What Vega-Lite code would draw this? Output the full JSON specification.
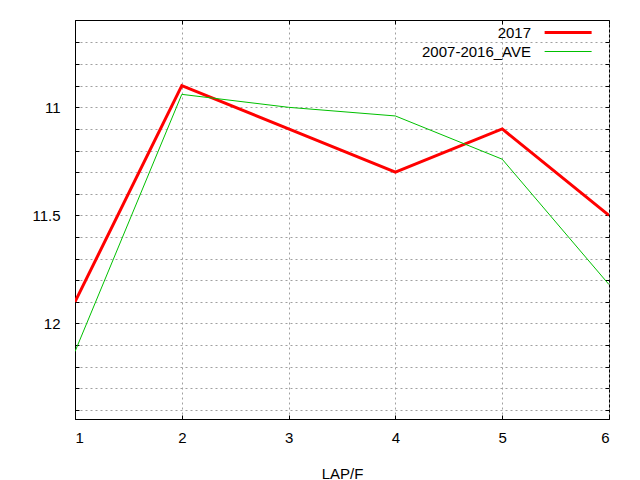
{
  "$schema": "https://vega.github.io/schema/vega-lite/v6.json",
  "width": 534,
  "height": 399,
  "autosize": "none",
  "padding": {"left": 75, "top": 20, "right": 31, "bottom": 61},
  "background": "white",
  "config": {
    "font": "Liberation Sans",
    "view": {"stroke": "black", "strokeWidth": 1},
    "axis": {
      "domainColor": "black",
      "tickColor": "black",
      "labelColor": "black",
      "titleColor": "black",
      "labelFontSize": 15,
      "titleFontSize": 15,
      "titleFontWeight": "normal",
      "gridColor": "#a0a0a0",
      "gridDash": [2, 3],
      "gridWidth": 1
    }
  },
  "data": {
    "values": [
      {"lap": 1, "time": 11.9, "series": "2017"},
      {"lap": 2, "time": 10.9, "series": "2017"},
      {"lap": 3, "time": 11.1, "series": "2017"},
      {"lap": 4, "time": 11.3, "series": "2017"},
      {"lap": 5, "time": 11.1, "series": "2017"},
      {"lap": 6, "time": 11.5, "series": "2017"},
      {"lap": 1, "time": 12.13, "series": "2007-2016_AVE"},
      {"lap": 2, "time": 10.94, "series": "2007-2016_AVE"},
      {"lap": 3, "time": 11.0, "series": "2007-2016_AVE"},
      {"lap": 4, "time": 11.04, "series": "2007-2016_AVE"},
      {"lap": 5, "time": 11.24, "series": "2007-2016_AVE"},
      {"lap": 6, "time": 11.82, "series": "2007-2016_AVE"}
    ]
  },
  "layer": [
    {
      "mark": {"type": "line", "clip": true},
      "encoding": {
        "x": {
          "field": "lap", "type": "quantitative",
          "scale": {"domain": [1, 6], "nice": false, "zero": false},
          "axis": {"values": [1, 2, 3, 4, 5, 6], "format": "d", "title": "LAP/F", "grid": true, "tickSize": -4, "labelPadding": 15, "titlePadding": 21}
        },
        "y": {
          "field": "time", "type": "quantitative",
          "scale": {"domain": [10.596, 12.442], "reverse": true, "nice": false, "zero": false},
          "axis": {
            "values": [10.7, 10.8, 10.9, 11, 11.1, 11.2, 11.3, 11.4, 11.5, 11.6, 11.7, 11.8, 11.9, 12, 12.1, 12.2, 12.3, 12.4],
            "labelExpr": "datum.value == 11 || datum.value == 11.5 || datum.value == 12 ? format(datum.value, '~g') : ''",
            "title": null, "grid": true, "tickSize": -4, "labelPadding": 19
          }
        },
        "color": {
          "field": "series", "type": "nominal",
          "scale": {"domain": ["2017", "2007-2016_AVE"], "range": ["#ff0000", "#00c000"]},
          "legend": {
            "title": null, "orient": "none", "legendX": 468, "legendY": 5,
            "symbolType": "M-1,0H7", "symbolSize": 138, "labelAlign": "right", "labelOffset": -27,
            "labelFontSize": 15, "labelColor": "black", "rowPadding": 3, "padding": 0
          }
        },
        "strokeWidth": {
          "field": "series", "type": "nominal",
          "scale": {"domain": ["2017", "2007-2016_AVE"], "range": [3, 1]},
          "legend": {
            "title": null, "orient": "none", "legendX": 468, "legendY": 5,
            "symbolType": "M-1,0H7", "symbolSize": 138, "labelAlign": "right", "labelOffset": -27,
            "labelFontSize": 15, "labelColor": "black", "rowPadding": 3, "padding": 0
          }
        }
      }
    },
    {
      "mark": {"type": "line", "strokeOpacity": 0},
      "encoding": {
        "x": {
          "field": "lap", "type": "quantitative",
          "axis": {"orient": "top", "values": [1, 2, 3, 4, 5, 6], "labels": false, "title": null, "grid": false, "domain": false, "tickSize": -4}
        },
        "y": {
          "field": "time", "type": "quantitative",
          "axis": {
            "orient": "right",
            "values": [10.7, 10.8, 10.9, 11, 11.1, 11.2, 11.3, 11.4, 11.5, 11.6, 11.7, 11.8, 11.9, 12, 12.1, 12.2, 12.3, 12.4],
            "labels": false, "title": null, "grid": false, "domain": false, "tickSize": -4
          }
        },
        "detail": {"field": "series"}
      }
    }
  ],
  "resolve": {"axis": {"x": "independent", "y": "independent"}}
}
